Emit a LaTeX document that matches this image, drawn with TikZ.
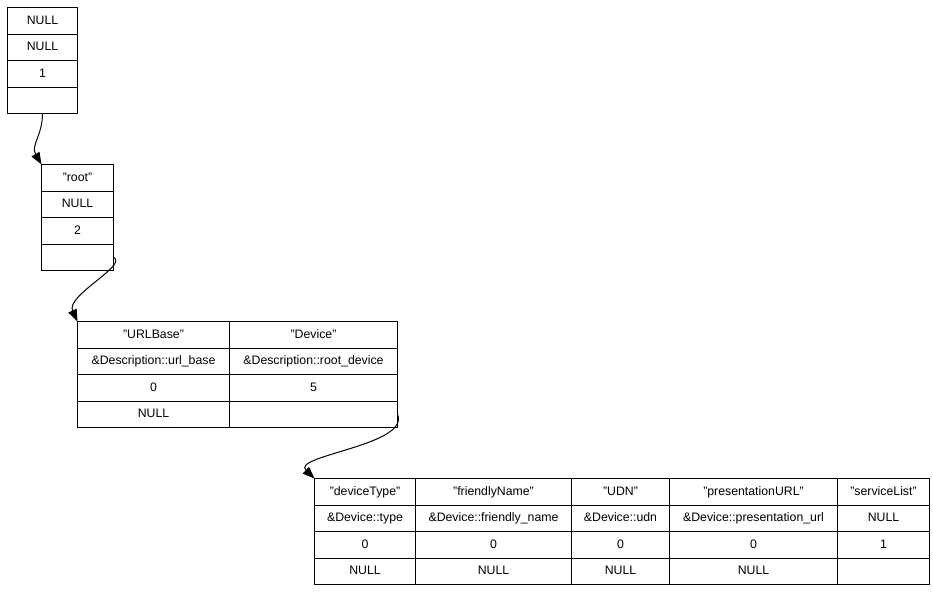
\documentclass[tikz,border=0pt]{standalone}
\usepackage{fontspec}
\setmainfont{Liberation Sans}
\usetikzlibrary{matrix,arrows.meta}

\begin{document}
\begin{tikzpicture}
[x=1pt, y=-1pt, font=\fontsize{12.3}{15}\selectfont,
table/.style = {matrix of nodes, nodes in empty cells,
	anchor=north west, inner sep=0pt, outer sep=0pt,
	column sep=-1pt, row sep=-1pt,
	nodes={draw, line width=1pt, inner sep=0pt, outer sep=0pt, anchor=center,
		minimum height=26.5pt, text height=9pt, text depth=2.5pt},
},
link/.style = {line width=1pt, -{Triangle[length=12pt,width=9pt]}},
]
\useasboundingbox (0,0) rectangle (933,592);

\matrix (top) [table, column 1/.style={nodes={minimum width=70pt}}] at (7,7) {
	NULL \\
	NULL \\
	1 \\
	\\
};

\matrix (root) [table, column 1/.style={nodes={minimum width=72pt}}] at (41,164) {
	"root" \\
	NULL \\
	2 \\
	\\
};

\matrix (descr) [table,
	column 1/.style={nodes={minimum width=152pt}},
	column 2/.style={nodes={minimum width=168pt}}] at (77,321) {
	"URLBase" & "Device" \\
	\&Description::url\_base & \&Description::root\_device \\
	0 & 5 \\
	NULL & \\
};

\matrix (device) [table,
	column 1/.style={nodes={minimum width=101pt}},
	column 2/.style={nodes={minimum width=156pt}},
	column 3/.style={nodes={minimum width=98pt}},
	column 4/.style={nodes={minimum width=168pt}},
	column 5/.style={nodes={minimum width=92pt}}] at (314,478) {
	"deviceType" & "friendlyName" & "UDN" & "presentationURL" & "serviceList" \\
	\&Device::type & \&Device::friendly\_name & \&Device::udn & \&Device::presentation\_url & NULL \\
	0 & 0 & 0 & 0 & 1 \\
	NULL & NULL & NULL & NULL & \\
};

\draw[link] (top-4-1.south) .. controls +(0,22) and +(-11,-19) .. (root-1-1.north west);
\draw[link] (root-4-1.east) .. controls +(15,8) and +(-12,-26) .. (descr-1-1.north west);
\draw[link] (descr-4-2.east) .. controls +(13,31) and +(-24,-23) .. (device-1-1.north west);

\end{tikzpicture}
\end{document}
